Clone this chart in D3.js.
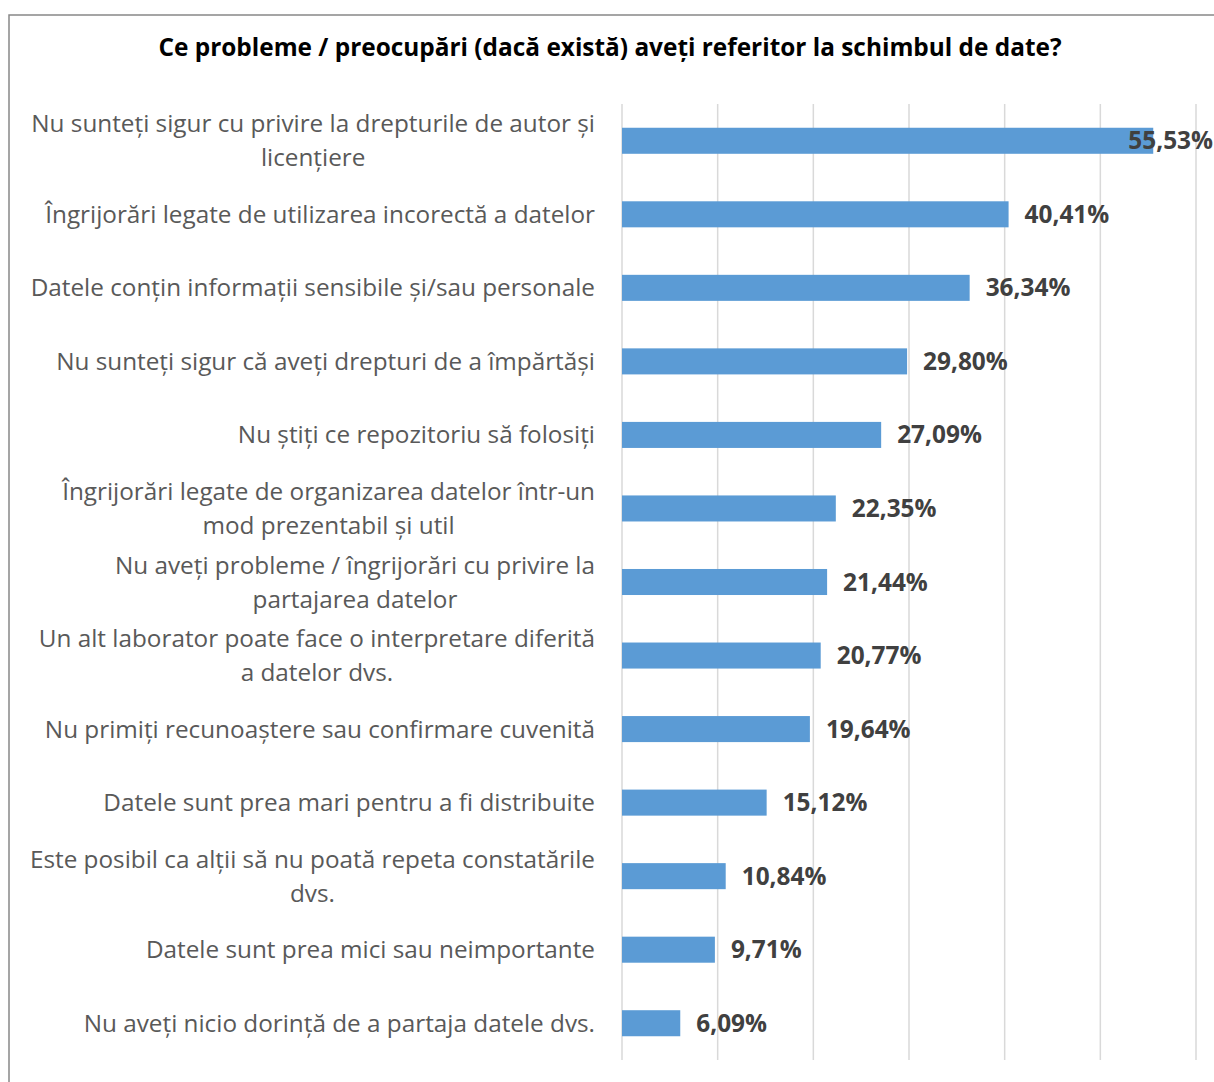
<!DOCTYPE html>
<meta charset="utf-8">
<style>
body { margin: 0; background: #fff; }
svg { display: block; }
.title { font: bold 24.4px "Open Sans", sans-serif; fill: #000; text-anchor: middle; }
.cat { font: 24.3px "Open Sans", sans-serif; fill: #595959; }
.val { font: bold 24.4px "Open Sans", sans-serif; fill: #404040; }
.grid line { stroke: #d9d9d9; stroke-width: 1.5; }
</style>
<script src="https://cdn.jsdelivr.net/npm/d3@7"></script>
<body>
<script>
var title = "Ce probleme / preocupări (dacă există) aveți referitor la schimbul de date?";

var categories = [
    ["Nu sunteți sigur cu privire la drepturile de autor și", "licențiere"],
    ["Îngrijorări legate de utilizarea incorectă a datelor"],
    ["Datele conțin informații sensibile și/sau personale"],
    ["Nu sunteți sigur că aveți drepturi de a împărtăși"],
    ["Nu știți ce repozitoriu să folosiți"],
    ["Îngrijorări legate de organizarea datelor într-un", "mod prezentabil și util"],
    ["Nu aveți probleme / îngrijorări cu privire la", "partajarea datelor"],
    ["Un alt laborator poate face o interpretare diferită", "a datelor dvs."],
    ["Nu primiți recunoaștere sau confirmare cuvenită"],
    ["Datele sunt prea mari pentru a fi distribuite"],
    ["Este posibil ca alții să nu poată repeta constatările", "dvs."],
    ["Datele sunt prea mici sau neimportante"],
    ["Nu aveți nicio dorință de a partaja datele dvs."]
];

var values = [55.53, 40.41, 36.34, 29.80, 27.09, 22.35, 21.44, 20.77, 19.64, 15.12, 10.84, 9.71, 6.09];

var ticks = [0, 10, 20, 30, 40, 50, 60];

var W = 1214, H = 1082;
var svg = d3.select("body").append("svg").attr("width", W).attr("height", H);

// chart border (runs off the right/bottom edge like the screenshot)
svg.append("rect")
    .attr("x", 9).attr("y", 15)
    .attr("width", 1230).attr("height", 1100)
    .attr("fill", "#fff").attr("stroke", "#888").attr("stroke-width", 1.5);

svg.append("text").attr("class", "title")
    .attr("x", 610).attr("y", 56)
    .text(title);

var x = d3.scaleLinear().domain([0, 60]).range([622, 1196]);
var y = d3.scaleBand()
    .domain(d3.range(values.length))
    .range([104, 1060])
    .paddingInner(0.646).paddingOuter(0.323);

svg.append("g").attr("class", "grid")
    .selectAll("line").data(ticks).join("line")
    .attr("x1", d => x(d)).attr("x2", d => x(d))
    .attr("y1", 104).attr("y2", 1060);

svg.append("g").selectAll("rect").data(values).join("rect")
    .attr("x", x(0))
    .attr("y", (d, i) => y(i))
    .attr("width", d => x(d) - x(0))
    .attr("height", y.bandwidth())
    .attr("fill", "#5b9bd5");

// category labels, multi-line ones centred within their block
var labelRight = 595, lineH = 34;
categories.forEach(function(lines, i) {
    var cy = y(i) + y.bandwidth() / 2;
    var g = svg.append("g");
    var texts = lines.map(function(line, j) {
        return g.append("text").attr("class", "cat")
            .attr("y", cy + (j - (lines.length - 1) / 2) * lineH)
            .attr("dy", "0.35em")
            .text(line);
    });
    var maxW = d3.max(texts, t => t.node().getComputedTextLength());
    texts.forEach(function(t) {
        t.attr("x", labelRight - maxW / 2).attr("text-anchor", "middle");
    });
});

var fmt = d => d.toFixed(2).replace(".", ",") + "%";
values.forEach(function(v, i) {
    var t = svg.append("text").attr("class", "val")
        .attr("y", y(i) + y.bandwidth() / 2)
        .attr("dy", "0.35em")
        .text(fmt(v));
    var w = t.node().getComputedTextLength();
    t.attr("x", Math.min(x(v) + 16, 1213 - w));
});
</script>
</body>
